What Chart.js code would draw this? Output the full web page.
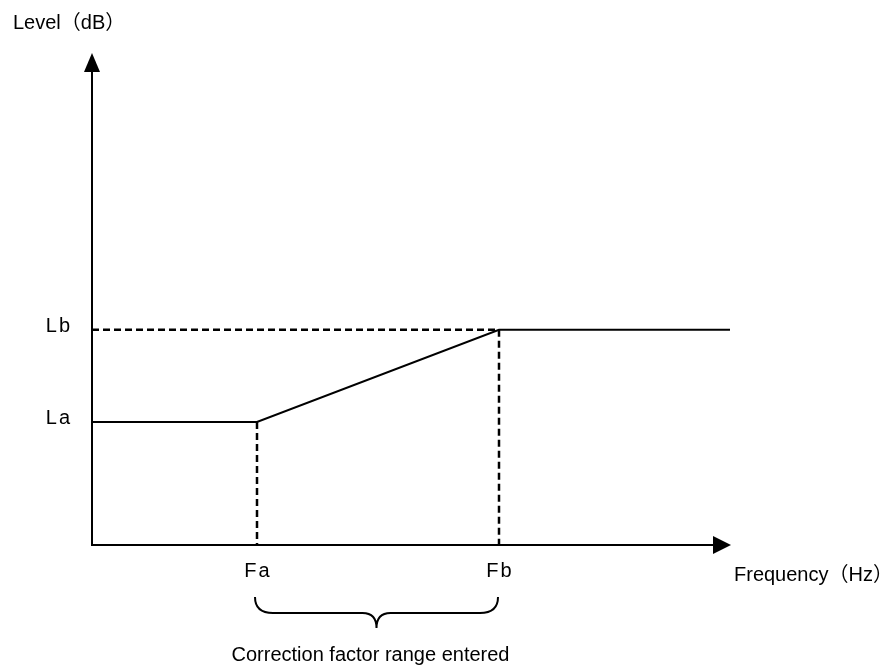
<!DOCTYPE html>
<html>
<head>
<meta charset="utf-8">
<script src="https://cdn.jsdelivr.net/npm/chart.js@4.4.1/dist/chart.umd.min.js"></script>
<style>
  html, body { margin: 0; padding: 0; background: #ffffff; }
  #wrap { width: 889px; height: 665px; }
</style>
</head>
<body>
<div id="wrap"><canvas id="chart" width="889" height="665"></canvas></div>
<script>
// Correction characteristic: flat at La, rising linearly from Fa to Fb, flat at Lb
const freqValues  = [0, 30, 74, 116];   // frequency (arbitrary units)
const levelValues = [4, 4, 7, 7];       // level (arbitrary units)

// Break points marked on the axes
const cornerFreqs  = [30, 74];
const cornerLevels = [4, 7];
const freqTickLabels  = ['Fa', 'Fb'];
const levelTickLabels = ['La', 'Lb'];

// Axis extents
const freqMax  = 116;
const levelMax = 16;

// Texts
const yAxisTitle = 'Level（dB）';
const xAxisTitle = 'Frequency（Hz）';
const rangeNote  = 'Correction factor range entered';

const FONT = '"Liberation Sans", Arial, "Noto Sans CJK JP", sans-serif';

const mainLine = freqValues.map((f, i) => ({ x: f, y: levelValues[i] }));

// Dashed guides: Lb across to Fb, and drops from both corners to the axis
const guideLb = [{ x: 0, y: cornerLevels[1] }, { x: cornerFreqs[1], y: cornerLevels[1] }];
const guideFa = [{ x: cornerFreqs[0], y: cornerLevels[0] }, { x: cornerFreqs[0], y: 0 }];
const guideFb = [{ x: cornerFreqs[1], y: cornerLevels[1] }, { x: cornerFreqs[1], y: 0 }];

const dashed = (data) => ({
  data, showLine: true, borderColor: '#000', borderWidth: 2.5,
  borderDash: [7, 4], pointRadius: 0, fill: false, tension: 0
});

const annotate = {
  id: 'annotate',
  afterDatasetsDraw(chart) {
    const { ctx, scales: { x, y } } = chart;
    const x0 = x.getPixelForValue(0);
    const y0 = y.getPixelForValue(0);
    const xEnd = x.getPixelForValue(freqMax);
    const yEnd = y.getPixelForValue(levelMax);

    ctx.save();
    ctx.strokeStyle = '#000';
    ctx.fillStyle = '#000';
    ctx.lineWidth = 2;
    ctx.setLineDash([]);

    // axes
    ctx.beginPath();
    ctx.moveTo(x0, y0); ctx.lineTo(xEnd - 14, y0);
    ctx.moveTo(x0, y0 + 1); ctx.lineTo(x0, yEnd + 14);
    ctx.stroke();

    // arrow heads
    ctx.beginPath();
    ctx.moveTo(xEnd + 1, y0);
    ctx.lineTo(xEnd - 17, y0 - 9);
    ctx.lineTo(xEnd - 17, y0 + 9);
    ctx.closePath();
    ctx.fill();
    ctx.beginPath();
    ctx.moveTo(x0, yEnd);
    ctx.lineTo(x0 - 8, yEnd + 19);
    ctx.lineTo(x0 + 8, yEnd + 19);
    ctx.closePath();
    ctx.fill();

    // labels
    ctx.font = '20px ' + FONT;
    ctx.textBaseline = 'alphabetic';
    ctx.letterSpacing = '2px';
    ctx.textAlign = 'right';
    levelTickLabels.forEach((t, i) => {
      ctx.fillText(t, x0 - 20, y.getPixelForValue(cornerLevels[i]) + 2);
    });
    ctx.textAlign = 'center';
    freqTickLabels.forEach((t, i) => {
      ctx.fillText(t, x.getPixelForValue(cornerFreqs[i]) + 1, y0 + 32);
    });
    ctx.letterSpacing = '0px';
    ctx.textAlign = 'left';
    ctx.fillText(yAxisTitle, 13, 29);
    ctx.fillText(xAxisTitle, xEnd + 4, y0 + 36);

    // brace under the Fa–Fb range
    const bx1 = x.getPixelForValue(cornerFreqs[0]) - 2;
    const bx2 = x.getPixelForValue(cornerFreqs[1]) - 1;
    const bm = (bx1 + bx2) / 2;
    const top = y0 + 52, mid = y0 + 68, tip = y0 + 83;
    ctx.lineWidth = 2;
    ctx.beginPath();
    ctx.moveTo(bx1, top);
    ctx.quadraticCurveTo(bx1, mid, bx1 + 18, mid);
    ctx.lineTo(bm - 14, mid);
    ctx.quadraticCurveTo(bm, mid, bm, tip);
    ctx.quadraticCurveTo(bm, mid, bm + 14, mid);
    ctx.lineTo(bx2 - 18, mid);
    ctx.quadraticCurveTo(bx2, mid, bx2, top);
    ctx.stroke();

    ctx.textAlign = 'center';
    ctx.fillText(rangeNote, bm - 6, y0 + 116);
    ctx.restore();
  }
};

new Chart(document.getElementById('chart'), {
  type: 'scatter',
  data: {
    datasets: [
      dashed(guideLb),
      dashed(guideFa),
      dashed(guideFb),
      {
        data: mainLine, showLine: true, borderColor: '#000', borderWidth: 2,
        pointRadius: 0, fill: false, tension: 0
      }
    ]
  },
  options: {
    responsive: false,
    animation: false,
    events: [],
    layout: { padding: { left: 92, right: 159, top: 53, bottom: 120 } },
    plugins: { legend: { display: false }, tooltip: { enabled: false } },
    scales: {
      x: { type: 'linear', min: 0, max: freqMax, display: false },
      y: { type: 'linear', min: 0, max: levelMax, display: false }
    }
  },
  plugins: [annotate]
});
</script>
</body>
</html>
